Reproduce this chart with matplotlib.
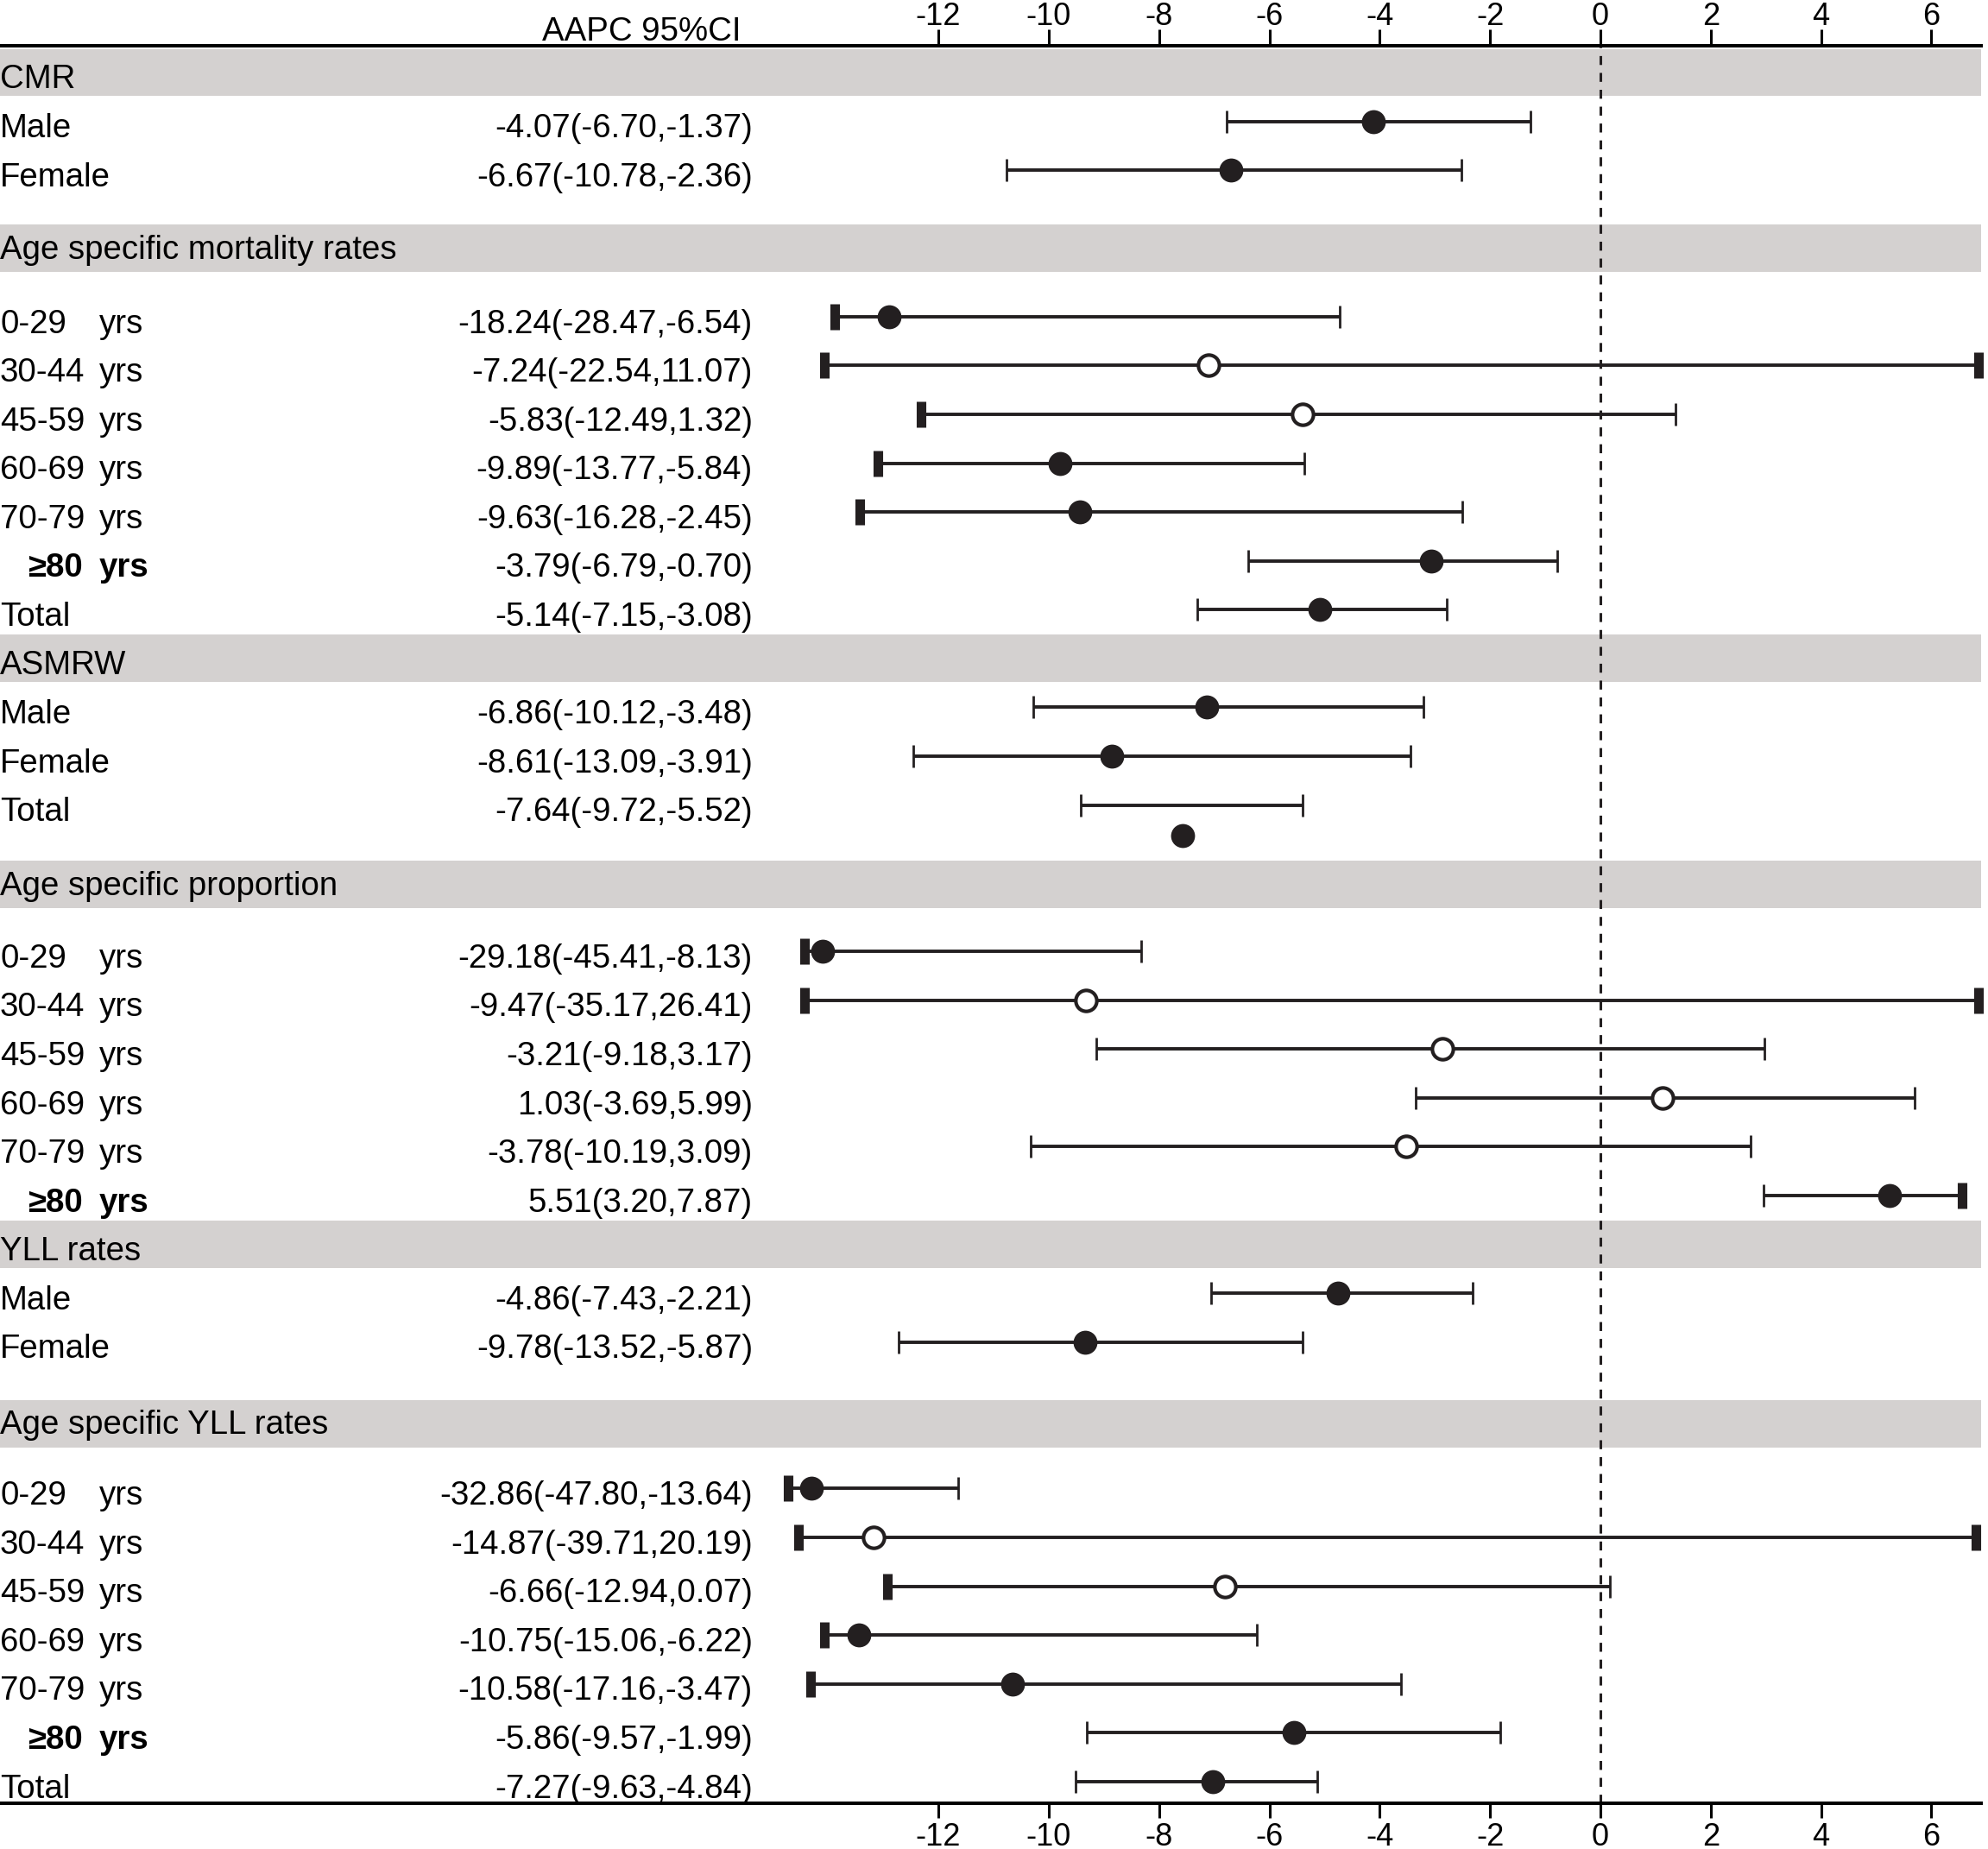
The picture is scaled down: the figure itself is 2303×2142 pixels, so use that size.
import matplotlib.pyplot as plt
from matplotlib.transforms import blended_transform_factory

plt.rcParams['font.family'] = ['Liberation Sans', 'DejaVu Sans']
plt.rcParams['axes.unicode_minus'] = False

INK = '#231f20'
BAND = '#d4d1d0'

ages = ["0-29", "30-44", "45-59", "60-69", "70-79", "≥80"]

# --- CMR
cmr_rows = ["Male", "Female"]
cmr_txt = ["-4.07(-6.70,-1.37)", "-6.67(-10.78,-2.36)"]
cmr_est = [-4.12, -6.70]
cmr_lo = [-6.77, -10.76]
cmr_hi = [-1.26, -2.52]

# --- age specific mortality rates
mort_rows = ages + ["Total"]
mort_txt = ["-18.24(-28.47,-6.54)", "-7.24(-22.54,11.07)", "-5.83(-12.49,1.32)",
            "-9.89(-13.77,-5.84)", "-9.63(-16.28,-2.45)", "-3.79(-6.79,-0.70)",
            "-5.14(-7.15,-3.08)"]
mort_est = [-12.90, -7.10, -5.39, -9.80, -9.43, -3.07, -5.09]
mort_lo = [-13.88, -14.07, -12.31, -13.10, -13.42, -6.39, -7.30]
mort_hi = [-4.72, 6.85, 1.36, -5.37, -2.50, -0.78, -2.79]
mort_open = [0, 1, 1, 0, 0, 0, 0]
mort_cut_lo = [1, 1, 1, 1, 1, 0, 0]
mort_cut_hi = [0, 1, 0, 0, 0, 0, 0]

# --- ASMRW
asm_rows = ["Male", "Female", "Total"]
asm_txt = ["-6.86(-10.12,-3.48)", "-8.61(-13.09,-3.91)", "-7.64(-9.72,-5.52)"]
asm_est = [-7.13, -8.85, -7.58]
asm_lo = [-10.28, -12.46, -9.42]
asm_hi = [-3.20, -3.44, -5.40]

# --- age specific proportion
prop_rows = ages
prop_txt = ["-29.18(-45.41,-8.13)", "-9.47(-35.17,26.41)", "-3.21(-9.18,3.17)",
            "1.03(-3.69,5.99)", "-3.78(-10.19,3.09)", "5.51(3.20,7.87)"]
prop_est = [-14.10, -9.32, -2.86, 1.13, -3.52, 5.25]
prop_lo = [-14.43, -14.43, -9.14, -3.34, -10.33, 2.96]
prop_hi = [-8.32, 6.85, 2.98, 5.69, 2.73, 6.55]
prop_open = [0, 1, 1, 1, 1, 0]
prop_cut_lo = [1, 1, 0, 0, 0, 0]
prop_cut_hi = [0, 1, 0, 0, 0, 1]

# --- YLL rates
yll_rows = ["Male", "Female"]
yll_txt = ["-4.86(-7.43,-2.21)", "-9.78(-13.52,-5.87)"]
yll_est = [-4.75, -9.34]
yll_lo = [-7.06, -12.72]
yll_hi = [-2.31, -5.40]

# --- age specific YLL rates
ayll_rows = ages + ["Total"]
ayll_txt = ["-32.86(-47.80,-13.64)", "-14.87(-39.71,20.19)", "-6.66(-12.94,0.07)",
            "-10.75(-15.06,-6.22)", "-10.58(-17.16,-3.47)", "-5.86(-9.57,-1.99)",
            "-7.27(-9.63,-4.84)"]
ayll_est = [-14.30, -13.18, -6.80, -13.44, -10.66, -5.56, -7.02]
ayll_lo = [-14.72, -14.54, -12.93, -14.07, -14.31, -9.31, -9.52]
ayll_hi = [-11.64, 6.80, 0.18, -6.22, -3.62, -1.81, -5.13]
ayll_open = [0, 1, 1, 0, 0, 0, 0]
ayll_cut_lo = [1, 1, 1, 1, 1, 0, 0]
ayll_cut_hi = [0, 1, 0, 0, 0, 0, 0]

ticks = [-12, -10, -8, -6, -4, -2, 0, 2, 4, 6]

sections = [
    ("CMR", cmr_rows, cmr_txt, cmr_est, cmr_lo, cmr_hi, None, None, None),
    ("Age specific mortality rates", mort_rows, mort_txt, mort_est, mort_lo, mort_hi,
     mort_open, mort_cut_lo, mort_cut_hi),
    ("ASMRW", asm_rows, asm_txt, asm_est, asm_lo, asm_hi, None, None, None),
    ("Age specific proportion", prop_rows, prop_txt, prop_est, prop_lo, prop_hi,
     prop_open, prop_cut_lo, prop_cut_hi),
    ("YLL rates", yll_rows, yll_txt, yll_est, yll_lo, yll_hi, None, None, None),
    ("Age specific YLL rates", ayll_rows, ayll_txt, ayll_est, ayll_lo, ayll_hi,
     ayll_open, ayll_cut_lo, ayll_cut_hi),
]
# band position (in row slots) relative to the previous section's last row
band_gap = [None, 1.6, 1.0, 1.62, 1.0, 1.67]
row_gap = [1.0, 1.4, 1.0, 1.38, 1.0, 1.33]
head_off = [0.32, 0.22, 0.32, 0.22, 0.32, 0.20]

fig = plt.figure(figsize=(23.03, 21.42), dpi=100)
ax = fig.add_axes([0, 0.0246, 0.9964, 0.9507])
ax.set_xlim(-29.01, 6.897)
ax.set_ylim(35.45, -0.55)
tr = blended_transform_factory(ax.transAxes, ax.transData)

FS = 27.6
ax.axvline(0, color=INK, lw=2.2, ls=(0, (3.4, 3.0)), zorder=1)

last = None
for i, (name, rows, txt, est, lo, hi, op, clo, chi) in enumerate(sections):
    yb = 0.0 if last is None else last + band_gap[i]
    ax.axhspan(yb - 0.485, yb + 0.485, color=BAND, lw=0, zorder=0)
    ax.text(0.0, yb + head_off[i], name, transform=tr, fontsize=FS,
            va='baseline', ha='left')
    for j, lab in enumerate(rows):
        y = yb + row_gap[i] + j
        bold = lab == "≥80"
        fw = 'bold' if bold else 'normal'
        if lab in ages:
            if bold:
                ax.text(0.0416, y + 0.33, lab, transform=tr, fontsize=FS,
                        va='baseline', ha='right', fontweight=fw)
            else:
                ax.text(0.0, y + 0.33, lab, transform=tr, fontsize=FS,
                        va='baseline', ha='left')
            ax.text(0.0499, y + 0.33, "yrs", transform=tr, fontsize=FS,
                    va='baseline', ha='left', fontweight=fw)
        else:
            ax.text(0.0, y + 0.33, lab, transform=tr, fontsize=FS,
                    va='baseline', ha='left')
        ax.text(0.3800, y + 0.33, txt[j], transform=tr, fontsize=FS,
                va='baseline', ha='right')

        ax.hlines(y, lo[j], hi[j], color=INK, lw=2.8, zorder=2)
        tlo = clo[j] if clo else 0
        thi = chi[j] if chi else 0
        ax.plot([lo[j]], [y], marker='|', ms=21 if tlo else 19, mew=8 if tlo else 2.0,
                color=INK, clip_on=False, zorder=3)
        ax.plot([hi[j]], [y], marker='|', ms=21 if thi else 19, mew=8 if thi else 2.0,
                color=INK, clip_on=False, zorder=3)
        # ASMRW total point sits a little below its interval in the original
        yd = y + 0.63 if (name == "ASMRW" and lab == "Total") else y
        if op and op[j]:
            ax.plot([est[j]], [yd], 'o', ms=17.5, mfc='white', mec=INK, mew=3.0,
                    zorder=4, clip_on=False)
        else:
            ax.plot([est[j]], [yd], 'o', ms=20, mfc=INK, mec=INK, mew=0,
                    zorder=4, clip_on=False)
        last = y

# header
ax.text(0.374, -0.662, "AAPC 95%CI", transform=tr, fontsize=FS, va='baseline', ha='right')

for s in ['left', 'right']:
    ax.spines[s].set_visible(False)
for s in ['top', 'bottom']:
    ax.spines[s].set_linewidth(2.9)
    ax.spines[s].set_color('black')

ax.set_yticks([])
ax.set_xticks(ticks)
ax.set_xticklabels([str(t) for t in ticks])
ax.tick_params(axis='x', bottom=True, labelbottom=True, top=False, labeltop=False,
               direction='out', length=12.5, width=2.2, pad=3.2, labelsize=26,
               color='black')

top = ax.secondary_xaxis('top')
top.set_xticks(ticks)
top.set_xticklabels([str(t) for t in ticks])
top.spines['top'].set_visible(False)
top.tick_params(axis='x', direction='out', length=14, width=2.2, pad=-2.5,
                labelsize=26, color='black')

fig.savefig("out.png", dpi=100)
